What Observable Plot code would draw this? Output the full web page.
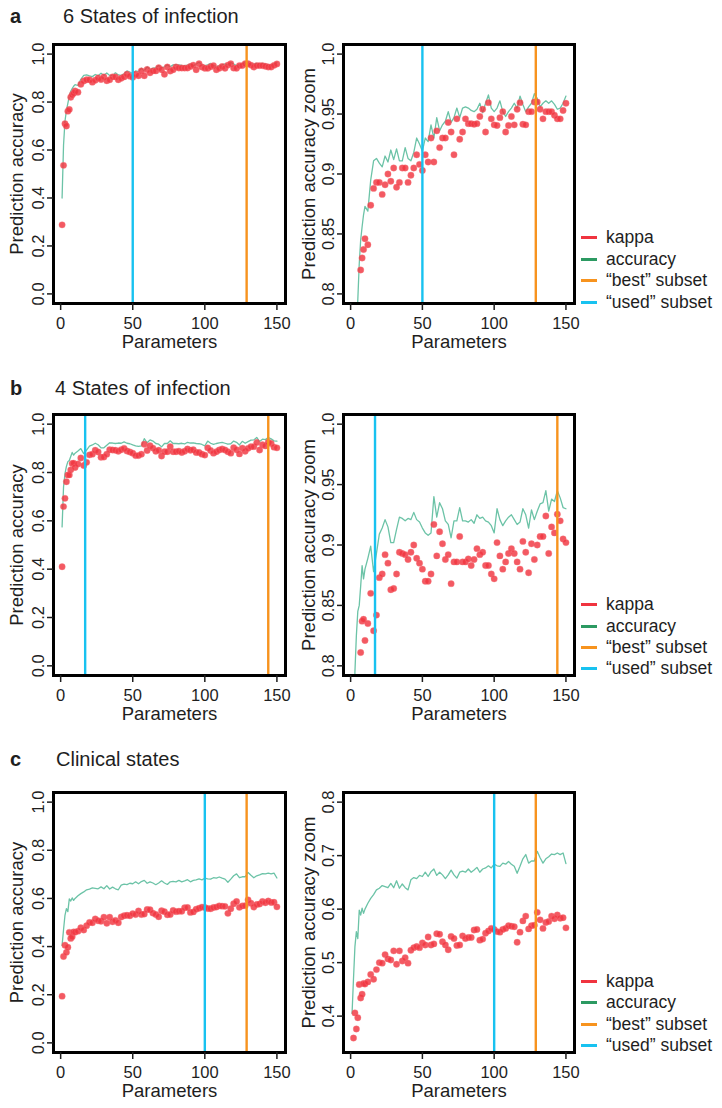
<!DOCTYPE html>
<html>
<head>
<meta charset="utf-8">
<script src="https://cdn.jsdelivr.net/npm/d3@7"></script>
<script src="https://cdn.jsdelivr.net/npm/@observablehq/plot@0.6"></script>
<style>
  body { margin: 0; background: #fff; font-family: "Liberation Sans", Arial, Helvetica, sans-serif; color: #1e1e1e; }
  #root { position: relative; width: 722px; height: 1108px; overflow: hidden; background: #fff; }
  .abs { position: absolute; }
  .title { font-size: 20px; line-height: 20px; white-space: nowrap; }
  .tag { font-weight: bold; }
  .leg { position: absolute; left: 581px; font-size: 17.5px; line-height: 20px; white-space: nowrap; }
  .leg span.sw { position: absolute; left: 0; top: 9px; width: 16px; height: 3px; }
  .leg span.tx { position: absolute; left: 25px; top: 0; }
</style>
</head>
<body>
<div id="root"></div>
<script>
// ---------- data ----------
const params = [1,2,3,4,5,6,7,8,9,10,
  12,14,16,18,20,22,24,26,28,30,
  32,34,36,38,40,42,44,46,48,50,
  52,54,56,58,60,62,64,66,68,70,
  72,74,76,78,80,82,84,86,88,90,
  92,94,96,98,100,102,104,106,108,110,
  112,114,116,118,120,122,124,126,128,130,
  132,134,136,138,140,142,144,146,148,150];

// a: 6 states of infection
const kappaA = [0.288,0.536,0.71,0.70,0.762,0.769,0.820,0.830,0.837,0.846,
  0.841,0.874,0.888,0.893,0.893,0.883,0.891,0.900,0.894,0.905,
  0.889,0.893,0.905,0.905,0.893,0.899,0.905,0.916,0.908,0.903,
  0.916,0.910,0.930,0.910,0.936,0.922,0.930,0.930,0.943,0.935,
  0.916,0.946,0.929,0.935,0.946,0.942,0.942,0.9415,0.942,0.948,
  0.954,0.935,0.9595,0.946,0.941,0.9405,0.947,0.952,0.935,0.9405,
  0.948,0.941,0.954,0.9595,0.9415,0.941,0.952,0.952,0.960,0.960,
  0.954,0.946,0.952,0.952,0.952,0.949,0.946,0.946,0.953,0.959];
const accA = [0.40,0.62,0.72,0.765,0.795,0.825,0.845,0.856,0.866,0.873,
  0.869,0.895,0.911,0.913,0.909,0.906,0.915,0.910,0.920,0.912,
  0.921,0.911,0.911,0.922,0.913,0.911,0.918,0.930,0.925,0.919,
  0.930,0.927,0.941,0.930,0.947,0.936,0.941,0.944,0.952,0.943,
  0.947,0.955,0.947,0.955,0.956,0.955,0.953,0.952,0.954,0.959,
  0.951,0.959,0.966,0.955,0.952,0.955,0.961,0.952,0.948,0.952,
  0.955,0.959,0.955,0.965,0.958,0.952,0.956,0.959,0.967,0.963,
  0.956,0.959,0.961,0.959,0.961,0.958,0.954,0.955,0.959,0.965];

// b: 4 states of infection
const kappaB = [0.41,0.659,0.693,0.762,0.79,0.79,0.811,0.837,0.8385,0.821,
  0.835,0.860,0.829,0.842,0.873,0.876,0.892,0.885,0.863,0.864,
  0.876,0.894,0.893,0.892,0.888,0.894,0.900,0.889,0.885,0.880,
  0.870,0.870,0.876,0.917,0.891,0.911,0.901,0.888,0.892,0.868,
  0.886,0.886,0.907,0.886,0.886,0.8885,0.883,0.888,0.897,0.892,
  0.894,0.883,0.883,0.876,0.872,0.902,0.891,0.880,0.886,0.893,
  0.897,0.893,0.886,0.880,0.903,0.894,0.877,0.901,0.888,0.900,
  0.907,0.907,0.924,0.893,0.915,0.910,0.9255,0.920,0.905,0.902];
const accB = [0.575,0.74,0.795,0.825,0.845,0.850,0.866,0.883,0.872,0.880,
  0.889,0.899,0.878,0.893,0.909,0.914,0.921,0.915,0.902,0.902,
  0.913,0.923,0.922,0.920,0.922,0.921,0.927,0.921,0.919,0.914,
  0.910,0.908,0.910,0.940,0.923,0.935,0.930,0.920,0.917,0.906,
  0.920,0.920,0.931,0.920,0.920,0.919,0.921,0.918,0.925,0.922,
  0.923,0.920,0.919,0.916,0.910,0.930,0.921,0.916,0.920,0.923,
  0.925,0.921,0.917,0.919,0.930,0.925,0.914,0.929,0.921,0.928,
  0.934,0.935,0.945,0.928,0.938,0.936,0.945,0.939,0.931,0.930];

// c: clinical states
const kappaC = [0.194,0.359,0.406,0.376,0.397,0.459,0.434,0.441,0.461,0.460,
  0.464,0.478,0.469,0.487,0.500,0.499,0.515,0.507,0.505,0.522,
  0.497,0.522,0.503,0.509,0.499,0.523,0.528,0.530,0.528,0.537,
  0.533,0.548,0.533,0.535,0.554,0.553,0.539,0.533,0.524,0.549,
  0.545,0.532,0.533,0.550,0.545,0.547,0.547,0.561,0.562,0.542,
  0.544,0.555,0.559,0.564,0.562,0.558,0.557,0.562,0.564,0.569,
  0.568,0.567,0.538,0.557,0.578,0.587,0.563,0.569,0.570,0.594,
  0.580,0.564,0.575,0.577,0.587,0.582,0.589,0.583,0.584,0.565];
const accC = [0.405,0.47,0.53,0.558,0.545,0.598,0.589,0.602,0.592,0.600,
  0.611,0.620,0.627,0.636,0.639,0.644,0.642,0.640,0.648,0.640,
  0.653,0.639,0.647,0.640,0.636,0.655,0.659,0.657,0.663,0.661,
  0.669,0.661,0.670,0.675,0.663,0.669,0.664,0.657,0.664,0.673,
  0.664,0.658,0.669,0.671,0.669,0.675,0.669,0.673,0.678,0.669,
  0.675,0.677,0.681,0.677,0.684,0.681,0.680,0.686,0.684,0.689,
  0.684,0.680,0.667,0.680,0.694,0.702,0.686,0.690,0.690,0.708,
  0.696,0.686,0.694,0.698,0.703,0.702,0.705,0.702,0.705,0.685];

const usedSubset = [50, 17, 100];
const bestSubset = [129, 144, 129];

const rowTags = ["a", "b", "c"];
const rowTitles = ["6 States of infection", "4 States of infection", "Clinical states"];
const legendLabels = ["kappa", "accuracy", "\u201cbest\u201d subset", "\u201cused\u201d subset"];

const xTicks = [0, 50, 100, 150];
const xLabels = ["0", "50", "100", "150"];
const yTicksFull = [0, 0.2, 0.4, 0.6, 0.8, 1.0];
const yLabelsFull = ["0.0", "0.2", "0.4", "0.6", "0.8", "1.0"];
const yTicksZoomAB = [0.8, 0.85, 0.9, 0.95, 1.0];
const yLabelsZoomAB = ["0.8", "0.85", "0.9", "0.95", "1.0"];
const yTicksZoomC = [0.4, 0.5, 0.6, 0.7, 0.8];
const yLabelsZoomC = ["0.4", "0.5", "0.6", "0.7", "0.8"];

// ---------- styling ----------
const FONT = '"Liberation Sans", Arial, Helvetica, sans-serif';
const COL_KAPPA = "#f0343f";
const COL_ACC_LINE = "#6cc3a7";
const COL_ACC_LEG = "#2c9a62";
const COL_BEST = "#f7931e";
const COL_USED = "#18c2f0";
const xDomain = [-4.96, 155.96];

function panel(o) {
  const data = params.map((p, i) => ({p, k: o.kappa[i], a: o.acc[i]}));
  const yt = o.yTicks.map((v, i) => ({v, label: o.yLabels[i]}));
  const xt = xTicks.map((v, i) => ({v, label: xLabels[i]}));
  const mr = 6, mb = 60;
  return Plot.plot({
    width: o.marginLeft + o.frameW + mr,
    height: o.marginTop + o.frameH + mb,
    marginLeft: o.marginLeft, marginRight: mr, marginTop: o.marginTop, marginBottom: mb,
    x: {domain: xDomain},
    y: {domain: o.yDomain},
    style: {fontFamily: FONT, fontSize: "16px", color: "#1e1e1e", background: "transparent", overflow: "visible"},
    marks: [
      Plot.line(data, {x: "p", y: "a", stroke: COL_ACC_LINE, strokeWidth: 1.3, clip: true}),
      Plot.dot(data, {x: "p", y: "k", r: 3.2, fill: COL_KAPPA, fillOpacity: 0.82, stroke: "#f77a82", strokeOpacity: 0.35, strokeWidth: 1, clip: true}),
      Plot.ruleX([o.used], {x: d => d, stroke: COL_USED, strokeWidth: 2.4}),
      Plot.ruleX([o.best], {x: d => d, stroke: COL_BEST, strokeWidth: 2.4}),
      Plot.frame({stroke: "#000", strokeWidth: 3}),
      Plot.axisX({ticks: xTicks, tickSize: 7, tickFormat: () => "", label: null, strokeWidth: 1.5}),
      Plot.text(xt, {x: "v", text: "label", frameAnchor: "bottom", dy: 20, lineAnchor: "middle", textAnchor: "middle", fontSize: 16.5, fill: "#1e1e1e"}),
      Plot.axisY({ticks: o.yTicks, tickSize: 6, tickFormat: () => "", label: null, strokeWidth: 1.5}),
      Plot.text(yt, {y: "v", text: "label", frameAnchor: "left", dx: -15, rotate: -90, lineAnchor: "middle", textAnchor: "middle", fontSize: 16.5, fill: "#1e1e1e"}),
      Plot.text(["Parameters"], {text: d => d, frameAnchor: "bottom", dy: 39, lineAnchor: "middle", textAnchor: "middle", fontSize: 18.5, fill: "#1e1e1e"}),
      Plot.text([o.ylabel], {text: d => d, frameAnchor: "left", dx: o.labelDx, rotate: -90, lineAnchor: "middle", textAnchor: "middle", fontSize: 18.5, fill: "#1e1e1e"})
    ]
  });
}

const root = document.getElementById("root");
function place(el, left, top) {
  const d = document.createElement("div");
  d.className = "abs";
  d.style.left = left + "px";
  d.style.top = top + "px";
  d.appendChild(el);
  root.appendChild(d);
  return d;
}

const rows = [
  {kappa: kappaA, acc: accA, top: 0, marginTop: 44, frameH: 259, zoomDomain: [0.792, 1.008], zt: yTicksZoomAB, zl: yLabelsZoomAB, titleTop: 6, titleX: 63, legTops: [227, 249, 270, 292]},
  {kappa: kappaB, acc: accB, top: 370, marginTop: 44, frameH: 261, zoomDomain: [0.792, 1.008], zt: yTicksZoomAB, zl: yLabelsZoomAB, titleTop: 378, titleX: 55, legTops: [594, 616, 637, 658]},
  {kappa: kappaC, acc: accC, top: 740, marginTop: 52, frameH: 260, zoomDomain: [0.332, 0.818], zt: yTicksZoomC, zl: yLabelsZoomC, titleTop: 749, titleX: 56, legTops: [971, 992, 1014, 1035]}
];

rows.forEach((r, i) => {
  const left = panel({kappa: r.kappa, acc: r.acc, used: usedSubset[i], best: bestSubset[i],
    yDomain: [-0.04, 1.04], yTicks: yTicksFull, yLabels: yLabelsFull, ylabel: "Prediction accuracy",
    marginLeft: 53, frameW: 232, marginTop: r.marginTop, frameH: r.frameH, labelDx: -36});
  place(left, 0, r.top);
  const right = panel({kappa: r.kappa, acc: r.acc, used: usedSubset[i], best: bestSubset[i],
    yDomain: r.zoomDomain, yTicks: r.zt, yLabels: r.zl, ylabel: "Prediction accuracy zoom",
    marginLeft: 48, frameW: 231, marginTop: r.marginTop, frameH: r.frameH, labelDx: -34});
  place(right, 295, r.top);

  const tag = document.createElement("div");
  tag.className = "abs title tag";
  tag.style.left = "10px"; tag.style.top = r.titleTop + "px";
  tag.textContent = rowTags[i];
  root.appendChild(tag);
  const ttl = document.createElement("div");
  ttl.className = "abs title";
  ttl.style.left = r.titleX + "px"; ttl.style.top = r.titleTop + "px";
  ttl.textContent = rowTitles[i];
  root.appendChild(ttl);

  const cols = [COL_KAPPA, COL_ACC_LEG, COL_BEST, COL_USED];
  legendLabels.forEach((lab, j) => {
    const d = document.createElement("div");
    d.className = "leg";
    d.style.top = r.legTops[j] + "px";
    d.innerHTML = `<span class="sw" style="background:${cols[j]}"></span><span class="tx"></span>`;
    d.querySelector(".tx").textContent = lab;
    root.appendChild(d);
  });
});
</script>
</body>
</html>
